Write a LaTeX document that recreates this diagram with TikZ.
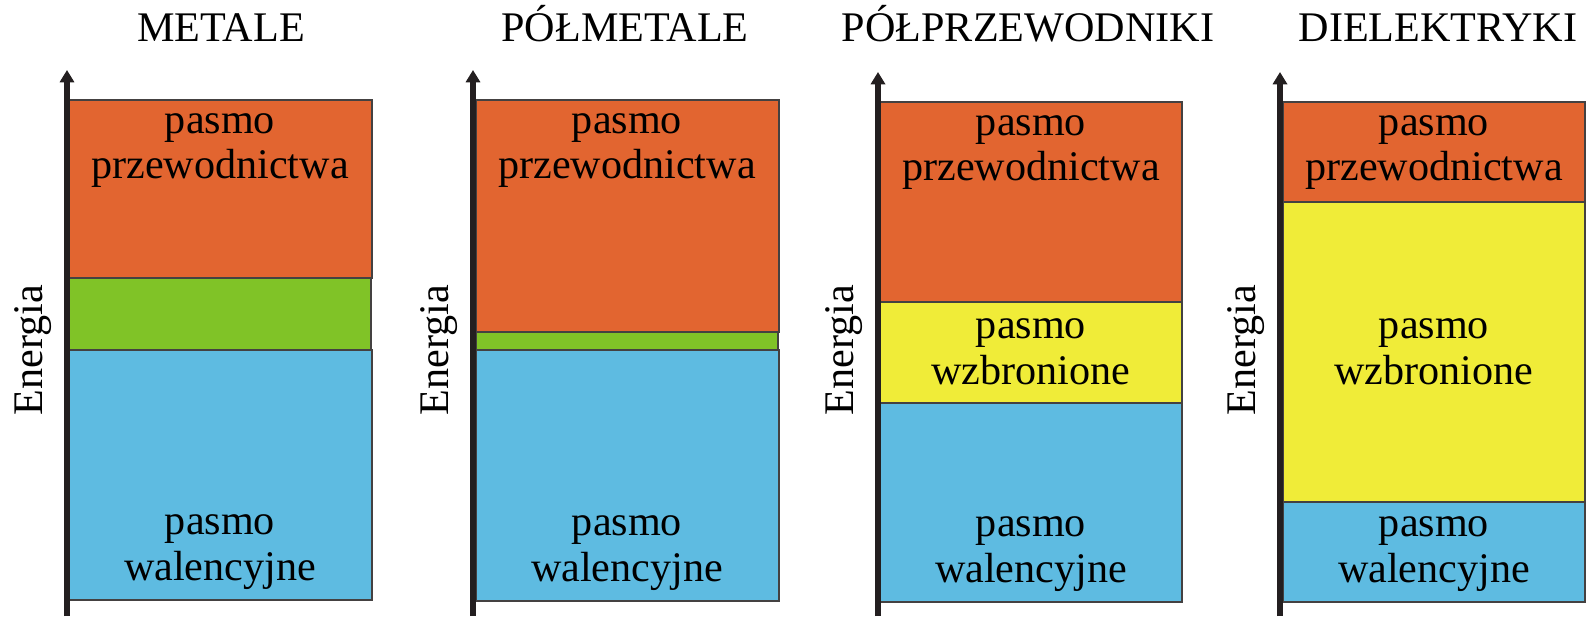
\documentclass[tikz,border=0pt]{standalone}
\usepackage{fontspec}
\setmainfont{Liberation Serif}
\usetikzlibrary{arrows.meta}

\definecolor{przewodnictwo}{RGB}{226,101,48}
\definecolor{nakladanie}{RGB}{128,195,39}
\definecolor{walencja}{RGB}{94,187,225}
\definecolor{przerwa}{RGB}{240,236,56}
\definecolor{ciemny}{RGB}{35,31,32}

\tikzset{
	pasmo/.style = {draw = ciemny!85, line width = 0.6pt},
	os/.style = {line width = 3.4pt, draw = ciemny, -{Triangle[width=8pt,length=7pt]}},
	napis/.style = {font = \fontsize{24}{26}\selectfont, align = center, inner sep = 0pt},
	tytul/.style = {font = \fontsize{24}{26}\selectfont, inner sep = 0pt, anchor = base},
	energia/.style = {font = \fontsize{24}{26}\selectfont, inner sep = 0pt, rotate = 90}
}

\begin{document}
\begin{tikzpicture}[x=0.02cm, y=-0.02cm]
		\useasboundingbox (0,0) rectangle (1587,616);

		% metale
		\draw[pasmo, fill = przewodnictwo] (69,100) rectangle (372,278);
		\draw[pasmo, fill = nakladanie] (69,278) rectangle (371,350);
		\draw[pasmo, fill = walencja] (69,350) rectangle (372,600);
		\coordinate (m0) at (67,616);
		\coordinate (m1) at (67,70);
		\draw[os] (m0) -- (m1);
		\node[tytul] (mt) at (221,41) {METALE};
		\node[energia] (me) at (33,350) {Energia};
		\node[napis, anchor = north] (mp) at (220,113) {pasmo\\przewodnictwa};
		\node[napis, anchor = south] (mw) at (220,590) {pasmo\\walencyjne};

		% polmetale
		\draw[pasmo, fill = przewodnictwo] (476,100) rectangle (779,332);
		\draw[pasmo, fill = nakladanie] (476,332) rectangle (778,350);
		\draw[pasmo, fill = walencja] (476,350) rectangle (779,601);
		\coordinate (p0) at (473,616);
		\coordinate (p1) at (473,70);
		\draw[os] (p0) -- (p1);
		\node[tytul] (pt) at (625,41) {PÓŁMETALE};
		\node[energia] (pe) at (439,350) {Energia};
		\node[napis, anchor = north] (pp) at (627,113) {pasmo\\przewodnictwa};
		\node[napis, anchor = south] (pw) at (627,591) {pasmo\\walencyjne};

		% polprzewodniki
		\draw[pasmo, fill = przewodnictwo] (880,102) rectangle (1182,302);
		\draw[pasmo, fill = przerwa] (880,302) rectangle (1182,403);
		\draw[pasmo, fill = walencja] (880,403) rectangle (1182,602);
		\coordinate (s0) at (878,616);
		\coordinate (s1) at (878,72);
		\draw[os] (s0) -- (s1);
		\node[tytul] (st) at (1028,41) {PÓŁPRZEWODNIKI};
		\node[energia] (se) at (844,350) {Energia};
		\node[napis, anchor = north] (sp) at (1031,115) {pasmo\\przewodnictwa};
		\node[napis] (sz) at (1031,352) {pasmo\\wzbronione};
		\node[napis, anchor = south] (sw) at (1031,592) {pasmo\\walencyjne};

		% dielektryki
		\draw[pasmo, fill = przewodnictwo] (1283,102) rectangle (1585,202);
		\draw[pasmo, fill = przerwa] (1283,202) rectangle (1585,502);
		\draw[pasmo, fill = walencja] (1283,502) rectangle (1585,602);
		\coordinate (d0) at (1280,616);
		\coordinate (d1) at (1280,72);
		\draw[os] (d0) -- (d1);
		\node[tytul] (dt) at (1438,41) {DIELEKTRYKI};
		\node[energia] (de) at (1246,350) {Energia};
		\node[napis, anchor = north] (dp) at (1434,115) {pasmo\\przewodnictwa};
		\node[napis] (dz) at (1434,352) {pasmo\\wzbronione};
		\node[napis, anchor = south] (dw) at (1434,592) {pasmo\\walencyjne};
	\end{tikzpicture}
\end{document}
